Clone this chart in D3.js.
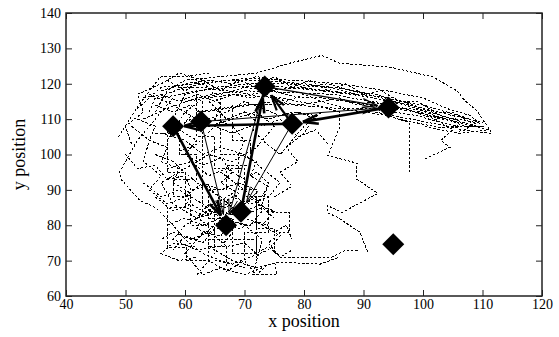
<!DOCTYPE html>
<html>
<head>
<meta charset="utf-8">
<script src="https://cdn.jsdelivr.net/npm/d3@7"></script>
<style>
  body { margin: 0; background: #fff; }
  svg { display: block; font-family: 'Liberation Serif', 'DejaVu Serif', serif; }
</style>
</head>
<body>
<svg id="chart" width="559" height="337"></svg>
<script>
// axis ticks
const xTicks = [40, 50, 60, 70, 80, 90, 100, 110, 120];
const yTicks = [60, 70, 80, 90, 100, 110, 120, 130, 140];

// cluster centres (diamonds)
const nodes = [
  [58, 108], [62.7, 109.3], [73.4, 119.2], [78, 108.7],
  [94.2, 113.3], [69.4, 83.8], [66.9, 80], [95, 74.6]
];

// transitions: from, to, line width
const edges = [
  [0, 6, 2.6], [5, 2, 2.6], [3, 2, 2.2], [4, 3, 2.6], [3, 0, 2.4],
  [2, 4, 1.4], [1, 4, 1], [3, 5, 1], [1, 6, 1], [2, 6, 1]
];

// raw trajectories (dashed)
const tracks = [
  [[55,112],[57,118],[60,121],[66,122],[72,123],[78,126],[83,128],[86,125.8],[94.5,124.7],[101.7,121.9],[105.7,118],[107,115.3],[109,112.5],[111.6,106],[106,107]],
  [[52,113],[56,119],[62,120],[70,121.5],[78,121],[86,120],[94,118],[100,116],[104,113],[108,111],[110,108],[104,108],[98,110],[92,112]],
  [[56,116],[62,118],[68,119],[74,119.5],[80,118.5],[88,117],[95,115],[101,112],[106,109.5],[109,108],[103,107.5],[96,110]],
  [[58,110],[60,117],[65,119],[71,120],[77,120],[84,119],[90,116.5],[97,114],[102,111],[107,108.5],[111,107],[106,106],[100,108]],
  [[54,112],[55,116],[60,119],[67,121],[72,121],[80,120],[87,118.5],[93,116],[99,113.5],[104,110.5],[109,109],[107,107],[105,106]],
  [[57,104],[60,112],[64,117],[70,118],[78,117.5],[85,117],[91,115],[97,113],[102,110],[105,107],[103,104],[104.5,102],[100,98.5]],
  [[60,115],[68,117],[76,116],[82,114],[86,112],[86,107.7],[84,99.7],[89,97.5],[88.9,96.6],[88.9,93],[92.4,89],[86.4,83.6],[83.9,85.6],[83.9,83.6],[85.7,82.2],[89.4,78],[90.8,72]],
  [[62,112],[70,114],[78,114],[86,113],[94,111],[97.8,109],[97.8,105],[97.8,94.5]],
  [[66,95],[70,90],[74,84],[76,83.6],[77.6,83.6],[77.6,78],[76,78],[74,75],[76,71],[84.7,71],[87,73],[89,73]],
  [[64,74],[68,70],[72,68],[76,69.6],[82.7,69],[86,71]],
  [[58,116],[55,110],[52,104],[50,98],[49,95],[49.4,92.7],[52.4,87],[55,85],[58,80],[60,76],[63,72],[66,70],[70,68]],
  [[48.8,105],[52,113.4],[55.8,121.9],[60,122],[64,123]],
  [[57,108],[57,95],[60,95],[60,85],[57,85],[57,73.7],[60.3,73.7],[60.3,70],[64,70],[64,76],[68,76],[68,72],[72,72],[72,88]],
  [[62,118],[62,105],[65,105],[65,96],[70,96],[70,88],[74,88],[74,78],[70,78],[70,70]],
  [[55,100],[58,98],[62,92],[66,88],[68,85],[65,80],[62,76],[60,72],[63,66],[66,68],[70,66],[73,68]],
  [[53,92],[56,88],[59,90],[63,86],[66,82],[70,80],[73,76],[71.4,66],[75.5,66],[75,70]],
  [[60,112],[64,108],[68,110],[72,112],[75,108],[72,102],[68,98],[64,100],[60,96],[56,92],[58,86],[62,82],[66,84],[70,82],[74,80]],
  [[56,106],[60,104],[63,100],[66,102],[70,100],[73,96],[76,92],[74,88],[71,86],[68,88],[64,84],[60,80],[58,76],[62,73],[66,74],[68,78]],
  [[55,114],[58,112],[61,114],[64,110],[67,112],[70,115],[73,113],[76,111],[79,112],[82,110]],
  [[51,108],[54,104],[53,98],[56,94],[54,90],[57,86],[60,88],[63,92],[66,90],[69,92],[72,90]],
  [[57,96],[61,98],[64,94],[67,96],[70,93],[72,95],[74,92],[73,86],[70,84],[67,80],[64,78],[61,76],[58,78],[56,76]],
  [[59,101],[62,103],[65,108],[68,106],[71,108],[73,104],[76,100],[78,104],[80,108],[83,112]],
  [[63,115],[63,84],[65,84],[65,72]],
  [[66,116],[66,100],[69,100],[69,90],[72,90],[72,79],[75,79],[75,72]],
  [[53,110],[57,113],[62,116],[66,117],[70,119],[74,118],[79,119],[84,118],[89,117],[95,116],[100,113],[105,111],[110,109]],
  [[56,118],[60,120],[64,121],[68,120],[72,122],[76,121],[80,119],[84,120],[88,118],[92,117],[96,115],[100,114],[104,112],[108,110]],
  [[59,119],[63,119],[67,118],[71,117],[75,118],[79,116],[83,116],[87,115],[91,114],[95,113],[99,112],[103,110],[107,109]],
  [[50,100],[52,96],[55,97],[57,93],[60,94],[61,90],[64,91],[66,87],[68,89],[70,86],[72,88],[73,84],[71,80],[68,81],[66,77],[63,78],[61,74],[58,75],[56,72],[59,70],[62,71]],
  [[52,110],[55,108],[54,104],[57,102],[56,98],[59,96],[58,92],[61,89],[60,85],[63,83],[62,79],[65,77],[67,74],[70,75],[72,72],[74,74],[76,71],[78,73]],
  [[61,122],[64,119],[66,114],[65,110],[68,108],[70,104],[69,100],[72,98],[71,94],[74,91],[72,86],[75,84],[73,80],[76,77],[74,73],[71,71],[68,69],[65,70]],
  [[54,117],[58,114],[61,111],[59,107],[62,104],[60,100],[63,97],[66,99],[68,95],[66,92],[69,89],[67,85],[64,86],[62,82],[65,79],[63,75],[60,77],[58,73]],
  [[57,121],[60,118],[63,121],[66,118],[69,121],[72,119],[75,122],[78,119],[81,121],[84,118],[87,120],[90,117],[93,118],[96,115],[99,115],[102,112],[105,112],[108,109]],
  [[53,116],[56,117],[59,115],[62,117],[65,115],[68,117],[71,116],[74,117],[77,115],[80,117],[83,115],[86,116],[89,114],[92,115],[95,113],[98,113],[101,111],[104,110],[107,108],[110,108]],
  [[60,109],[63,112],[67,113],[71,114],[75,115],[79,114],[83,115],[87,113],[91,113],[95,112],[99,111],[103,109],[106,108]],
  [[55,106],[59,106],[59,100],[62,100],[62,93],[58,93],[58,88],[61,88],[61,80],[64,80],[64,74],[67,74],[67,68]],
  [[68,114],[68,104],[71,104],[71,97],[67,97],[67,90],[64,90],[64,82],[68,82],[68,76],[72,76],[72,70]],
  [[57,80],[60,82],[63,80],[66,82],[69,79],[72,81],[75,78],[77,80],[78,76]],
  [[55,88],[58,84],[61,86],[64,83],[67,86],[70,83],[73,85],[75,82]],
  [[62,66],[64,70],[67,67],[70,70],[72,66],[74,69]],
  [[51,103],[50,108],[53,112],[52,117],[56,120],[59,123],[63,121]],
  [[70,112],[74,110],[78,112],[82,111],[80,106],[77,102],[79,98],[76,95],[78,91],[75,88]],
  [[64,115],[67,110],[70,112],[73,108],[76,110],[79,105],[82,107],[84,103]]
];

const svg = d3.select('#chart');
const margin = { left: 66, right: 17, top: 13, bottom: 41 };
const width = 559 - margin.left - margin.right;
const height = 337 - margin.top - margin.bottom;

const x = d3.scaleLinear().domain([40, 120]).range([0, width]);
const y = d3.scaleLinear().domain([60, 140]).range([height, 0]);

const g = svg.append('g').attr('transform', 'translate(' + margin.left + ',' + margin.top + ')');

const line = d3.line().x(d => x(d[0])).y(d => y(d[1]));

g.append('g').selectAll('path')
  .data(tracks)
  .enter()
  .append('path')
  .attr('d', line)
  .attr('fill', 'none')
  .attr('stroke', '#000')
  .attr('stroke-width', 1)
  .attr('stroke-dasharray', '2.5,1.8')
  .attr('shape-rendering', 'crispEdges');

// arrows: shaft plus two open head wings
const headLen = 16;
const headAngle = Math.PI / 11;
const shrink = 11;

const arrows = g.append('g');
edges.forEach(e => {
  let x1 = x(nodes[e[0]][0]), y1 = y(nodes[e[0]][1]);
  let x2 = x(nodes[e[1]][0]), y2 = y(nodes[e[1]][1]);
  let len = Math.hypot(x2 - x1, y2 - y1);
  let ux = (x2 - x1) / len, uy = (y2 - y1) / len;
  let ex = x2 - ux * shrink, ey = y2 - uy * shrink;
  let ang = Math.atan2(-uy, -ux);
  arrows.append('path')
    .attr('d', d3.line()([[x1, y1], [ex, ey]]))
    .attr('stroke', '#000')
    .attr('stroke-width', e[2])
    .attr('fill', 'none');
  [-headAngle, headAngle].forEach(a => {
    arrows.append('path')
      .attr('d', d3.line()([[ex, ey], [ex + headLen * Math.cos(ang + a), ey + headLen * Math.sin(ang + a)]]))
      .attr('stroke', '#000')
      .attr('stroke-width', e[2])
      .attr('fill', 'none');
  });
});

const r = 11;
g.append('g').selectAll('path')
  .data(nodes)
  .enter()
  .append('path')
  .attr('d', d => {
    let cx = x(d[0]), cy = y(d[1]);
    return 'M' + cx + ',' + (cy - r) + 'L' + (cx + r) + ',' + cy + 'L' + cx + ',' + (cy + r) + 'L' + (cx - r) + ',' + cy + 'Z';
  })
  .attr('fill', '#000');

// axes with inward ticks on all four sides
const tickLen = 6;
const axisColor = '#222';

const xb = g.append('g').attr('transform', 'translate(0,' + height + ')')
  .call(d3.axisBottom(x).tickValues(xTicks).tickSizeInner(-tickLen).tickSizeOuter(0).tickPadding(3));
const xt = g.append('g')
  .call(d3.axisTop(x).tickValues(xTicks).tickSizeInner(-tickLen).tickSizeOuter(0).tickFormat(''));
const yl = g.append('g')
  .call(d3.axisLeft(y).tickValues(yTicks).tickSizeInner(-tickLen).tickSizeOuter(0).tickPadding(5));
const yr = g.append('g').attr('transform', 'translate(' + width + ',0)')
  .call(d3.axisRight(y).tickValues(yTicks).tickSizeInner(-tickLen).tickSizeOuter(0).tickFormat(''));

[xb, xt, yl, yr].forEach(a => {
  a.select('.domain').remove();
  a.selectAll('line').attr('stroke', axisColor).attr('stroke-width', 1);
  a.selectAll('text').attr('fill', '#000').style('font-size', '14px').style('font-family', "'Liberation Serif', serif");
});

g.append('rect')
  .attr('width', width)
  .attr('height', height)
  .attr('fill', 'none')
  .attr('stroke', axisColor)
  .attr('stroke-width', 1.5);

svg.append('text')
  .attr('x', margin.left + width / 2)
  .attr('y', 327)
  .attr('text-anchor', 'middle')
  .style('font-size', '18px')
  .text('x position');

svg.append('text')
  .attr('transform', 'translate(25,' + (margin.top + height / 2) + ') rotate(-90)')
  .attr('text-anchor', 'middle')
  .style('font-size', '18px')
  .text('y position');
</script>
</body>
</html>
